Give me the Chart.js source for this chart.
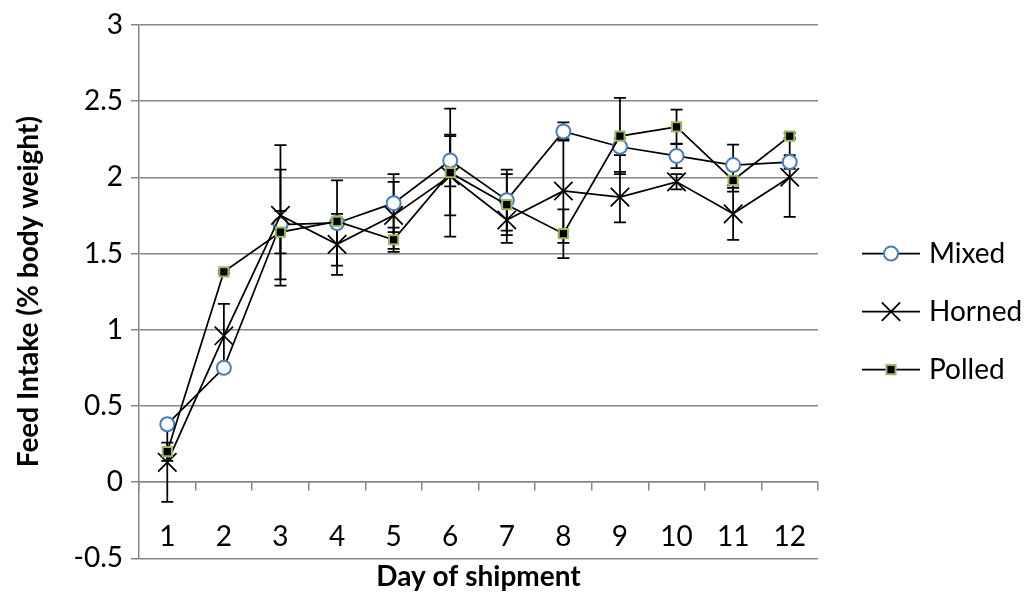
<!DOCTYPE html>
<html>
<head>
<meta charset="utf-8">
<script src="https://cdn.jsdelivr.net/npm/chart.js"></script>
<style>
  html, body { margin: 0; padding: 0; background: #fff; }
  #wrap { width: 1025px; height: 596px; }
</style>
</head>
<body>
<div id="wrap"><canvas id="feedChart"></canvas></div>
<script>
// day labels
const days = ['1', '2', '3', '4', '5', '6', '7', '8', '9', '10', '11', '12'];

// feed intake, % body weight
const mixed  = [0.38, 0.75, 1.69, 1.70, 1.83, 2.11, 1.85, 2.30, 2.20, 2.14, 2.08, 2.10];
const horned = [0.13, 0.96, 1.75, 1.56, 1.75, 2.01, 1.72, 1.91, 1.87, 1.97, 1.76, 2.00];
const polled = [0.20, 1.38, 1.64, 1.71, 1.59, 2.03, 1.82, 1.63, 2.27, 2.33, 1.98, 2.27];

// error bar half-lengths
const mixedErr  = [0.03, 0.03, 0.36, 0.28, 0.19, 0.17, 0.20, 0.06, 0.055, 0.08, 0.134, 0.045];
const hornedErr = [0.26, 0.21, 0.46, 0.20, 0.22, 0.26, 0.15, 0.34, 0.166, 0.05, 0.17, 0.26];
const polledErr = [0.06, 0.01, 0.14, 0.02, 0.08, 0.42, 0.20, 0.16, 0.25, 0.113, 0.074, 0.02];

const gridGray = '#868686';

Chart.defaults.font.family = 'Lato';
Chart.defaults.color = '#000';

// vertical error bars with caps, drawn under the markers
const errorBars = {
  id: 'errorBars',
  beforeDatasetsDraw(chart) {
    const { ctx, scales: { x, y } } = chart;
    ctx.save();
    ctx.strokeStyle = '#000';
    ctx.lineWidth = 1.75;
    chart.data.datasets.forEach(ds => {
      ds.data.forEach((v, i) => {
        const px = x.getPixelForValue(i);
        const top = y.getPixelForValue(v + ds.errors[i]);
        const bot = y.getPixelForValue(v - ds.errors[i]);
        ctx.beginPath();
        ctx.moveTo(px, top); ctx.lineTo(px, bot);
        ctx.moveTo(px - 6, top); ctx.lineTo(px + 6, top);
        ctx.moveTo(px - 6, bot); ctx.lineTo(px + 6, bot);
        ctx.stroke();
      });
    });
    ctx.restore();
  }
};

// excel style legend: line with marker through it
const sideLegend = {
  id: 'sideLegend',
  afterDraw(chart) {
    const { ctx, chartArea } = chart;
    const x0 = chartArea.right + 44;
    const yMid = (chartArea.top + chartArea.bottom) / 2 + 20;
    const n = chart.data.datasets.length;
    chart.data.datasets.forEach((ds, i) => {
      const yy = yMid + (i - (n - 1) / 2) * 58;
      ctx.save();
      ctx.strokeStyle = ds.borderColor;
      ctx.lineWidth = ds.borderWidth;
      ctx.beginPath();
      ctx.moveTo(x0, yy);
      ctx.lineTo(x0 + 58, yy);
      ctx.stroke();
      ctx.fillStyle = ds.pointBackgroundColor;
      ctx.strokeStyle = ds.pointBorderColor;
      ctx.lineWidth = ds.pointBorderWidth;
      Chart.helpers.drawPoint(ctx, {
        pointStyle: ds.pointStyle,
        radius: ds.pointRadius,
        rotation: 0,
        borderWidth: ds.pointBorderWidth
      }, x0 + 29, yy);
      ctx.fillStyle = '#000';
      ctx.font = '28px Lato';
      ctx.textBaseline = 'middle';
      ctx.textAlign = 'left';
      ctx.fillText(ds.label, x0 + 67, yy);
      ctx.restore();
    });
  }
};

const ctx = document.getElementById('feedChart').getContext('2d');
new Chart(ctx, {
  type: 'line',
  data: {
    labels: days,
    datasets: [{
      label: 'Mixed',
      data: mixed,
      errors: mixedErr,
      borderColor: '#000',
      borderWidth: 1.75,
      pointStyle: 'circle',
      pointRadius: 7,
      pointBackgroundColor: '#fff',
      pointBorderColor: '#4a7ebb',
      pointBorderWidth: 2,
      order: 3
    }, {
      label: 'Horned',
      data: horned,
      errors: hornedErr,
      borderColor: '#000',
      borderWidth: 1.75,
      pointStyle: 'crossRot',
      pointRadius: 13,
      pointBackgroundColor: '#000',
      pointBorderColor: '#000',
      pointBorderWidth: 1.75,
      order: 2
    }, {
      label: 'Polled',
      data: polled,
      errors: polledErr,
      borderColor: '#000',
      borderWidth: 1.75,
      pointStyle: 'rect',
      pointRadius: 6.5,
      pointBackgroundColor: '#000',
      pointBorderColor: '#9bbb59',
      pointBorderWidth: 2,
      order: 1
    }]
  },
  options: {
    responsive: true,
    maintainAspectRatio: false,
    animation: false,
    devicePixelRatio: 1,
    layout: { padding: { top: 20, right: 207, left: 0, bottom: 0 } },
    plugins: {
      legend: { display: false },
      tooltip: { enabled: false },
      title: {
        display: true,
        position: 'bottom',
        fullSize: false,
        text: 'Day of shipment',
        color: '#000',
        font: { size: 28, weight: 'bold' },
        padding: { top: 2, bottom: 2 }
      }
    },
    scales: {
      x: {
        type: 'category',
        position: { y: 0 },
        offset: true,
        grid: { offset: true, drawOnChartArea: false, drawTicks: true, tickLength: 8, color: gridGray, lineWidth: 1.5 },
        border: { display: true, color: gridGray, width: 1.5 },
        ticks: { color: '#000', font: { size: 28 }, padding: 30, maxRotation: 0, autoSkip: false }
      },
      y: {
        min: -0.5,
        max: 3,
        ticks: {
          stepSize: 0.5,
          color: '#000',
          font: { size: 28 },
          padding: 8,
          callback: v => String(v)
        },
        grid: { color: gridGray, lineWidth: 1.5, tickLength: 8 },
        border: { display: true, color: gridGray, width: 1.5 },
        title: {
          display: true,
          text: 'Feed Intake (% body weight)',
          color: '#000',
          font: { size: 28, weight: 'bold' },
          padding: { top: 12, bottom: 0 }
        },
        afterFit(scale) { scale.width = 139; }
      }
    }
  },
  plugins: [errorBars, sideLegend]
});
</script>
</body>
</html>
